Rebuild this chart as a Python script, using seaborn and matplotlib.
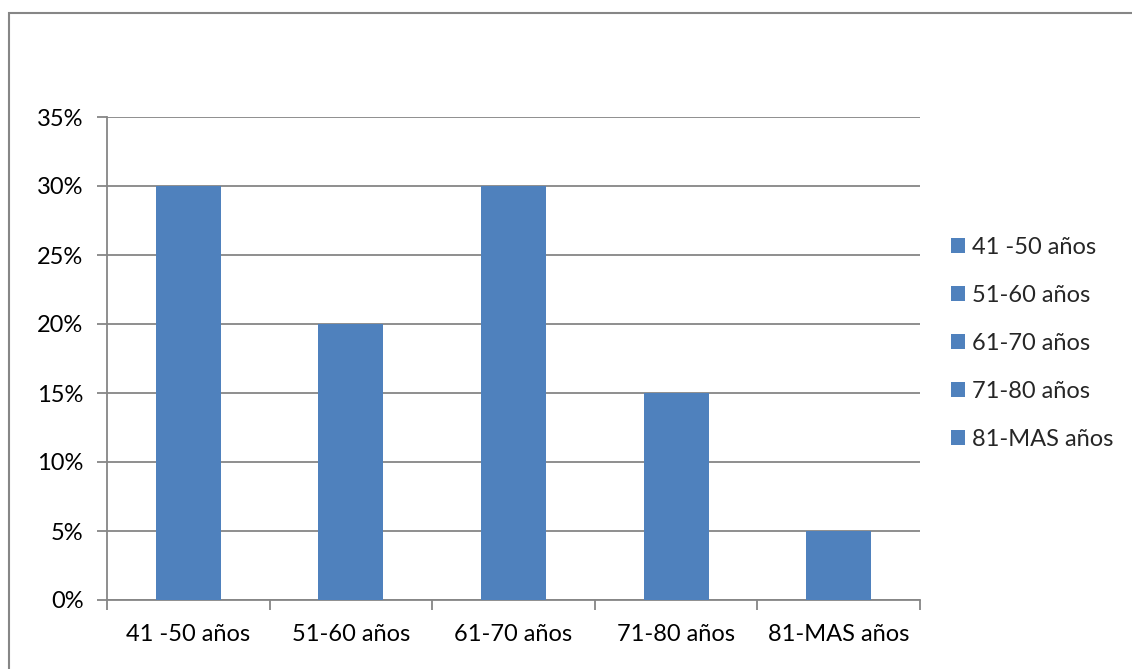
import matplotlib
matplotlib.use("Agg")
import matplotlib.pyplot as plt
import seaborn as sns
import pandas as pd
import numpy as np
from matplotlib.patches import Rectangle
from matplotlib.ticker import FuncFormatter, FixedLocator

categories = ["41 -50 años", "51-60 años", "61-70 años", "71-80 años", "81-MAS años"]
values = [0.30, 0.20, 0.30, 0.15, 0.05]
y_ticks = [0.0, 0.05, 0.10, 0.15, 0.20, 0.25, 0.30, 0.35]

bar_color = "#4F81BD"
grid_color = "#868686"

sns.set_theme(style="white")
plt.rcParams["font.family"] = ["Lato", "DejaVu Sans"]

df = pd.DataFrame({"grupo": categories, "pct": values})

W, H = 1132, 669
fig = plt.figure(figsize=(W / 100, H / 100), dpi=100)
ax = fig.add_axes([107 / W, 1 - 600 / H, (920 - 107) / W, (600 - 117) / H])

sns.barplot(data=df, x="grupo", y="pct", hue="grupo", palette=[bar_color] * 5,
            width=0.4, saturation=1, legend=True, ax=ax, zorder=3, linewidth=0)

ax.set_ylim(0, 0.35)
ax.set_xlim(-0.5, len(categories) - 0.5)
ax.set_xlabel("")
ax.set_ylabel("")

ax.yaxis.set_major_locator(FixedLocator(y_ticks))
ax.yaxis.set_major_formatter(FuncFormatter(lambda v, _: f"{v * 100:.0f}%"))
ax.yaxis.grid(True, color=grid_color, linewidth=1.3, zorder=0)
ax.set_axisbelow(True)

# category labels at bar centres, tick marks at category boundaries
ax.tick_params(axis="x", which="major", length=0, pad=17, labelsize=17, colors="black")
ax.set_xticks(np.arange(-0.5, len(categories), 1.0), minor=True)
ax.tick_params(axis="x", which="minor", length=7, width=1.3, color=grid_color, direction="out", bottom=True)
ax.tick_params(axis="y", which="major", length=7, width=1.3, color=grid_color, direction="out",
               left=True, labelsize=17, pad=10, labelcolor="black")

for side in ["top", "right"]:
    ax.spines[side].set_visible(False)
for side in ["left", "bottom"]:
    ax.spines[side].set_color(grid_color)
    ax.spines[side].set_linewidth(1.3)

leg = ax.legend(loc="center left", bbox_to_anchor=(951 / W, 1 - 343.5 / H), bbox_transform=fig.transFigure,
                frameon=False, fontsize=17, handlelength=0.6, handleheight=0.6, handletextpad=0.3,
                labelspacing=1.15, borderaxespad=0, borderpad=0)

# outer chart frame
fig.patches.append(Rectangle((8.5 / W, -0.05), 1.2, 1 - 12.5 / H + 0.05, transform=fig.transFigure,
                             fill=False, edgecolor=grid_color, linewidth=1.5))

fig.savefig("out.png", dpi=100, facecolor="white")
